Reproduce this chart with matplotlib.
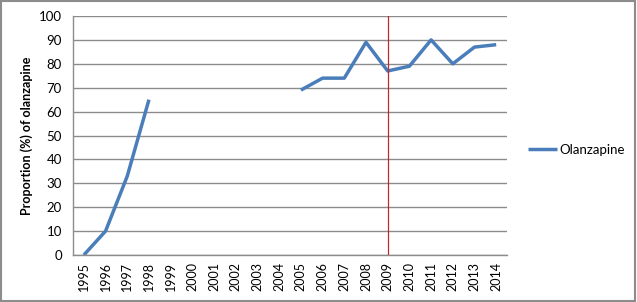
import numpy as np
import matplotlib.pyplot as plt

years = [str(y) for y in range(1995, 2015)]
olanzapine = [0, 10, 33, 65, np.nan, np.nan, np.nan, np.nan, np.nan, np.nan,
              69, 74, 74, 89, 77, 79, 90, 80, 87, 88]
marker_year = '2009'

plt.rcParams['font.family'] = ['Lato', 'DejaVu Sans']

fig = plt.figure(figsize=(6.37, 3.02), dpi=100)
ax = fig.add_axes([0.1146, 0.1556, 0.6814, 0.7914])

x = np.arange(len(years))
ax.plot(x, olanzapine, color='#4A7EBB', lw=2.5, label='Olanzapine',
        solid_capstyle='butt')
ax.axvline(years.index(marker_year), color='#C0282D', lw=0.9)

ax.set_xlim(-0.5, len(years) - 0.5)
ax.set_ylim(0, 100)
ax.set_yticks(range(0, 101, 10))
ax.set_xticks(x)
ax.set_xticklabels(years, rotation=90, fontsize=9)
ax.tick_params(axis='y', labelsize=9.5, length=0, pad=8)
ax.tick_params(axis='x', length=0, pad=5)
ax.yaxis.grid(True, color='#8C8C8C', lw=1)
ax.set_axisbelow(True)
for s in ['top', 'right']:
    ax.spines[s].set_visible(False)
for s in ['left', 'bottom']:
    ax.spines[s].set_color('#8C8C8C')
    ax.spines[s].set_linewidth(1)

ax.set_ylabel('Proportion (%) of olanzapine', fontsize=9, fontweight='bold',
              labelpad=4)

ax.legend(loc='center left', bbox_to_anchor=(1.02, 0.44), frameon=False,
          fontsize=9.5, handlelength=2.2, handletextpad=0.2)

fig.patches.append(plt.Rectangle((0.002, 0.004), 0.995, 0.992, transform=fig.transFigure,
                                 fill=False, edgecolor='#8C8C8C', lw=1.5))

fig.savefig('out.png', dpi=100)
